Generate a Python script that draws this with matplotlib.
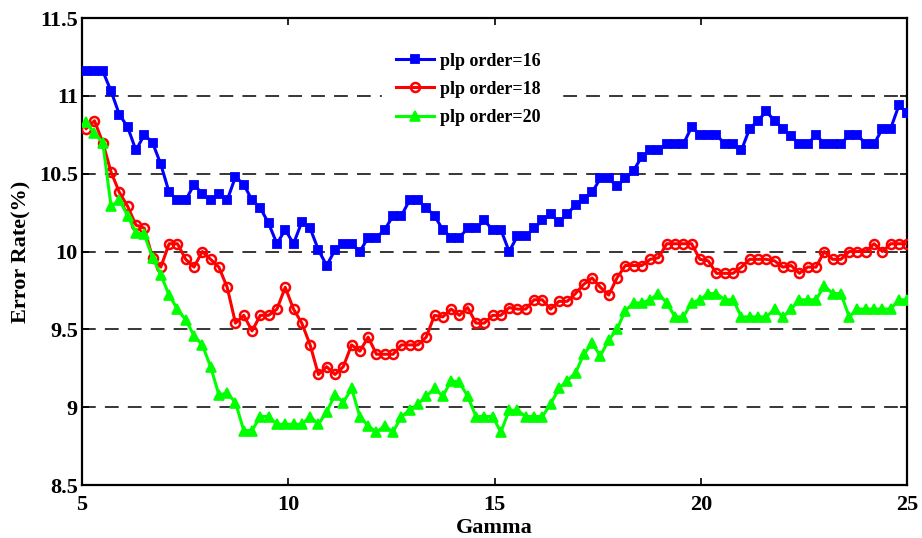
import numpy as np
import matplotlib
matplotlib.use("Agg")
import matplotlib.pyplot as plt

# Gamma sweep: 100 evenly spaced settings
gamma = np.linspace(5.1, 25.0, 100)

# Error rate (%) for each PLP order
err_plp16 = [
    11.16, 11.16, 11.16, 11.03, 10.88, 10.80, 10.65, 10.75, 10.70, 10.56,
    10.38, 10.33, 10.33, 10.43, 10.37, 10.33, 10.37, 10.33, 10.48, 10.43,
    10.33, 10.28, 10.18, 10.05, 10.14, 10.05, 10.19, 10.15, 10.01, 9.91,
    10.01, 10.05, 10.05, 10.00, 10.09, 10.09, 10.14, 10.23, 10.23, 10.33,
    10.33, 10.28, 10.23, 10.14, 10.09, 10.09, 10.15, 10.15, 10.20, 10.14,
    10.14, 10.00, 10.10, 10.10, 10.15, 10.20, 10.24, 10.19, 10.24, 10.30,
    10.34, 10.38, 10.47, 10.47, 10.42, 10.47, 10.52, 10.61, 10.65, 10.65,
    10.69, 10.69, 10.69, 10.80, 10.75, 10.75, 10.75, 10.69, 10.69, 10.65,
    10.79, 10.84, 10.90, 10.84, 10.79, 10.74, 10.69, 10.69, 10.75, 10.69,
    10.69, 10.69, 10.75, 10.75, 10.69, 10.69, 10.79, 10.79, 10.94, 10.89,
]
err_plp18 = [
    10.79, 10.84, 10.70, 10.51, 10.38, 10.29, 10.17, 10.15, 9.96, 9.90,
    10.05, 10.05, 9.95, 9.90, 10.00, 9.95, 9.90, 9.77, 9.54, 9.59,
    9.49, 9.59, 9.59, 9.63, 9.77, 9.63, 9.54, 9.40, 9.21, 9.26,
    9.21, 9.26, 9.40, 9.36, 9.45, 9.34, 9.34, 9.34, 9.40, 9.40,
    9.40, 9.45, 9.59, 9.58, 9.63, 9.59, 9.64, 9.54, 9.54, 9.59,
    9.59, 9.64, 9.63, 9.63, 9.69, 9.69, 9.63, 9.68, 9.68, 9.73,
    9.79, 9.83, 9.77, 9.72, 9.83, 9.91, 9.91, 9.91, 9.95, 9.96,
    10.05, 10.05, 10.05, 10.05, 9.95, 9.94, 9.86, 9.86, 9.86, 9.90,
    9.95, 9.95, 9.95, 9.94, 9.90, 9.91, 9.86, 9.90, 9.90, 10.00,
    9.95, 9.95, 10.00, 10.00, 10.00, 10.05, 10.00, 10.05, 10.05, 10.05,
]
err_plp20 = [
    10.83, 10.76, 10.70, 10.29, 10.33, 10.23, 10.12, 10.11, 9.96, 9.85,
    9.72, 9.63, 9.56, 9.46, 9.40, 9.26, 9.08, 9.09, 9.03, 8.85,
    8.85, 8.94, 8.94, 8.89, 8.89, 8.89, 8.89, 8.94, 8.89, 8.97,
    9.08, 9.03, 9.12, 8.94, 8.88, 8.84, 8.88, 8.84, 8.94, 8.98,
    9.02, 9.07, 9.12, 9.07, 9.17, 9.16, 9.07, 8.94, 8.94, 8.94,
    8.84, 8.98, 8.98, 8.94, 8.94, 8.94, 9.02, 9.12, 9.17, 9.22,
    9.34, 9.41, 9.33, 9.43, 9.50, 9.62, 9.67, 9.67, 9.69, 9.73,
    9.67, 9.58, 9.58, 9.67, 9.69, 9.73, 9.73, 9.69, 9.69, 9.58,
    9.58, 9.58, 9.58, 9.63, 9.58, 9.63, 9.69, 9.69, 9.69, 9.78,
    9.73, 9.73, 9.58, 9.63, 9.63, 9.63, 9.63, 9.63, 9.69, 9.69,
]

series_labels = ["plp order=16", "plp order=18", "plp order=20"]
x_ticks = [5, 10, 15, 20, 25]
x_ticklabels = ["5", "10", "15", "20", "25"]
y_ticks = [8.5, 9, 9.5, 10, 10.5, 11, 11.5]
y_ticklabels = ["8.5", "9", "9.5", "10", "10.5", "11", "11.5"]

FONT = "Liberation Serif"
plt.rcParams["font.family"] = [FONT, "DejaVu Serif"]
plt.rcParams["font.weight"] = "bold"

fig = plt.figure(figsize=(9.22, 5.38), dpi=100)
ax = fig.add_axes([0.089, 0.0985, 0.895, 0.868])

# horizontal dashed guide lines at the inner y ticks
for yv in y_ticks[1:-1]:
    ax.axhline(yv, color="black", linewidth=1.1, dashes=(9, 6), zorder=1)

ax.plot(gamma, err_plp16, color="#0000ff", linewidth=2.2, marker="s",
        markersize=6.0, markerfacecolor="#0000ff", markeredgewidth=1.3,
        label=series_labels[0], zorder=3)
ax.plot(gamma, err_plp18, color="#ff0000", linewidth=2.2, marker="o",
        markersize=6.5, markerfacecolor="none", markeredgewidth=1.8,
        label=series_labels[1], zorder=3)
ax.plot(gamma, err_plp20, color="#00ff00", linewidth=2.2, marker="^",
        markersize=7.0, markerfacecolor="#00ff00", markeredgewidth=1.2,
        label=series_labels[2], zorder=3)

ax.set_xlim(5, 25)
ax.set_ylim(8.5, 11.5)
ax.set_xticks(x_ticks)
ax.set_xticklabels(x_ticklabels)
ax.set_yticks(y_ticks)
ax.set_yticklabels(y_ticklabels)

ax.tick_params(axis="both", direction="in", length=5, width=1.2,
               labelsize=16, top=True, right=True)
ax.tick_params(axis="x", pad=7)
ax.tick_params(axis="y", pad=3)
for lab in ax.get_xticklabels() + ax.get_yticklabels():
    lab.set_fontweight("bold")

for sp in ax.spines.values():
    sp.set_linewidth(1.6)
    sp.set_color("black")

ax.set_xlabel("Gamma", fontsize=16, fontweight="bold", labelpad=2)
ax.set_ylabel("Error Rate(%)", fontsize=16, fontweight="bold", labelpad=5)

leg = ax.legend(loc="upper left", bbox_to_anchor=(0.364, 0.955),
                fontsize=13, frameon=True, fancybox=False,
                handlelength=2.1, handletextpad=0.35, labelspacing=0.62,
                borderpad=0.75, borderaxespad=0.0)
leg.get_frame().set_edgecolor("white")
leg.get_frame().set_facecolor("white")
leg.get_frame().set_alpha(1.0)
for t in leg.get_texts():
    t.set_fontweight("bold")

fig.savefig("out.png", dpi=100)
